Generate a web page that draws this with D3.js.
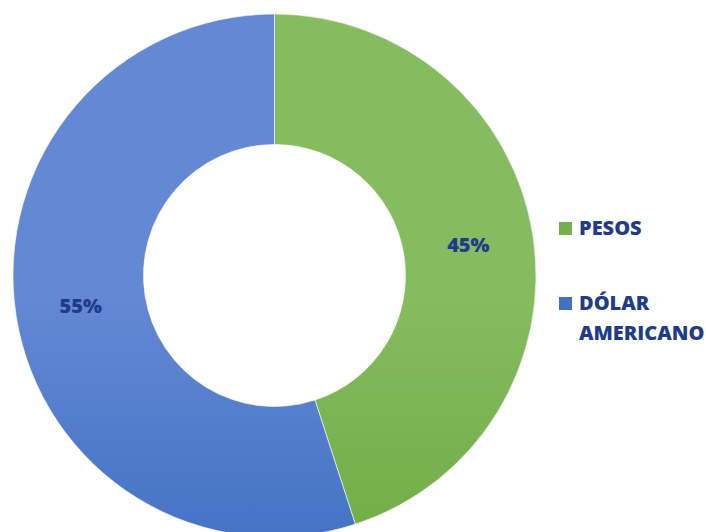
<!DOCTYPE html>
<html>
<head>
<meta charset="utf-8">
<script src="https://cdn.jsdelivr.net/npm/d3@7"></script>
<style>
  body { margin: 0; background: #fff; }
  text { font-family: "Open Sans", "Liberation Sans", sans-serif; font-weight: 800; }
</style>
</head>
<body>
<svg></svg>
<script>
var width = 706;
var height = 532;

var categories = ["PESOS", "DÓLAR AMERICANO"];
var values = [45, 55];
var legendLines = [["PESOS"], ["DÓLAR", "AMERICANO"]];

var cx = 274.5, cy = 275.5;
var outerR = 261.5, innerR = 131;

var svg = d3.select("svg")
            .attr("width", width)
            .attr("height", height);

var defs = svg.append("defs");
var gradStops = [
  ["#86bc60", "#70ad47", "#5c9d2d"],
  ["#6489d4", "#4472c4", "#2e5cba"]
];
gradStops.forEach(function(s, i) {
  var g = defs.append("linearGradient")
      .attr("id", "grad" + i)
      .attr("gradientUnits", "userSpaceOnUse")
      .attr("x1", 0).attr("y1", cy - outerR)
      .attr("x2", 0).attr("y2", cy + outerR);
  g.append("stop").attr("offset", "0%").attr("stop-color", s[0]);
  g.append("stop").attr("offset", "50%").attr("stop-color", s[1]);
  g.append("stop").attr("offset", "100%").attr("stop-color", s[2]);
});

var pie = d3.pie().sort(null).value(d => d);
var arc = d3.arc().innerRadius(innerR).outerRadius(outerR);
var labelArc = d3.arc().innerRadius((innerR + outerR) / 2).outerRadius((innerR + outerR) / 2);

var g = svg.append("g").attr("transform", "translate(" + cx + "," + cy + ")");

g.selectAll("path")
  .data(pie(values))
  .enter()
  .append("path")
    .attr("d", arc)
    .attr("fill", (d, i) => "url(#grad" + i + ")")
    .attr("stroke", "#ffffff")
    .attr("stroke-width", 1)
    .attr("stroke-opacity", 0.6);

var total = d3.sum(values);
g.selectAll("text.pct")
  .data(pie(values))
  .enter()
  .append("text")
    .attr("class", "pct")
    .attr("transform", d => "translate(" + labelArc.centroid(d) + ")")
    .attr("text-anchor", "middle")
    .attr("dy", "0.35em")
    .attr("font-size", 20)
    .attr("fill", "#1f3c8c")
    .text(d => Math.round(d.data / total * 100) + "%");

var legendY = [228, 303];
var legend = svg.append("g");
categories.forEach(function(c, i) {
  legend.append("rect")
    .attr("x", 559).attr("y", legendY[i] - 6)
    .attr("width", 13).attr("height", 13)
    .attr("fill", "url(#grad" + i + ")");
  var t = legend.append("text")
    .attr("x", 579).attr("y", legendY[i] + 7)
    .attr("font-size", 20)
    .attr("fill", "#1f3c8c");
  legendLines[i].forEach(function(line, j) {
    t.append("tspan").attr("x", 579).attr("dy", j === 0 ? 0 : 30).text(line);
  });
});
</script>
</body>
</html>
